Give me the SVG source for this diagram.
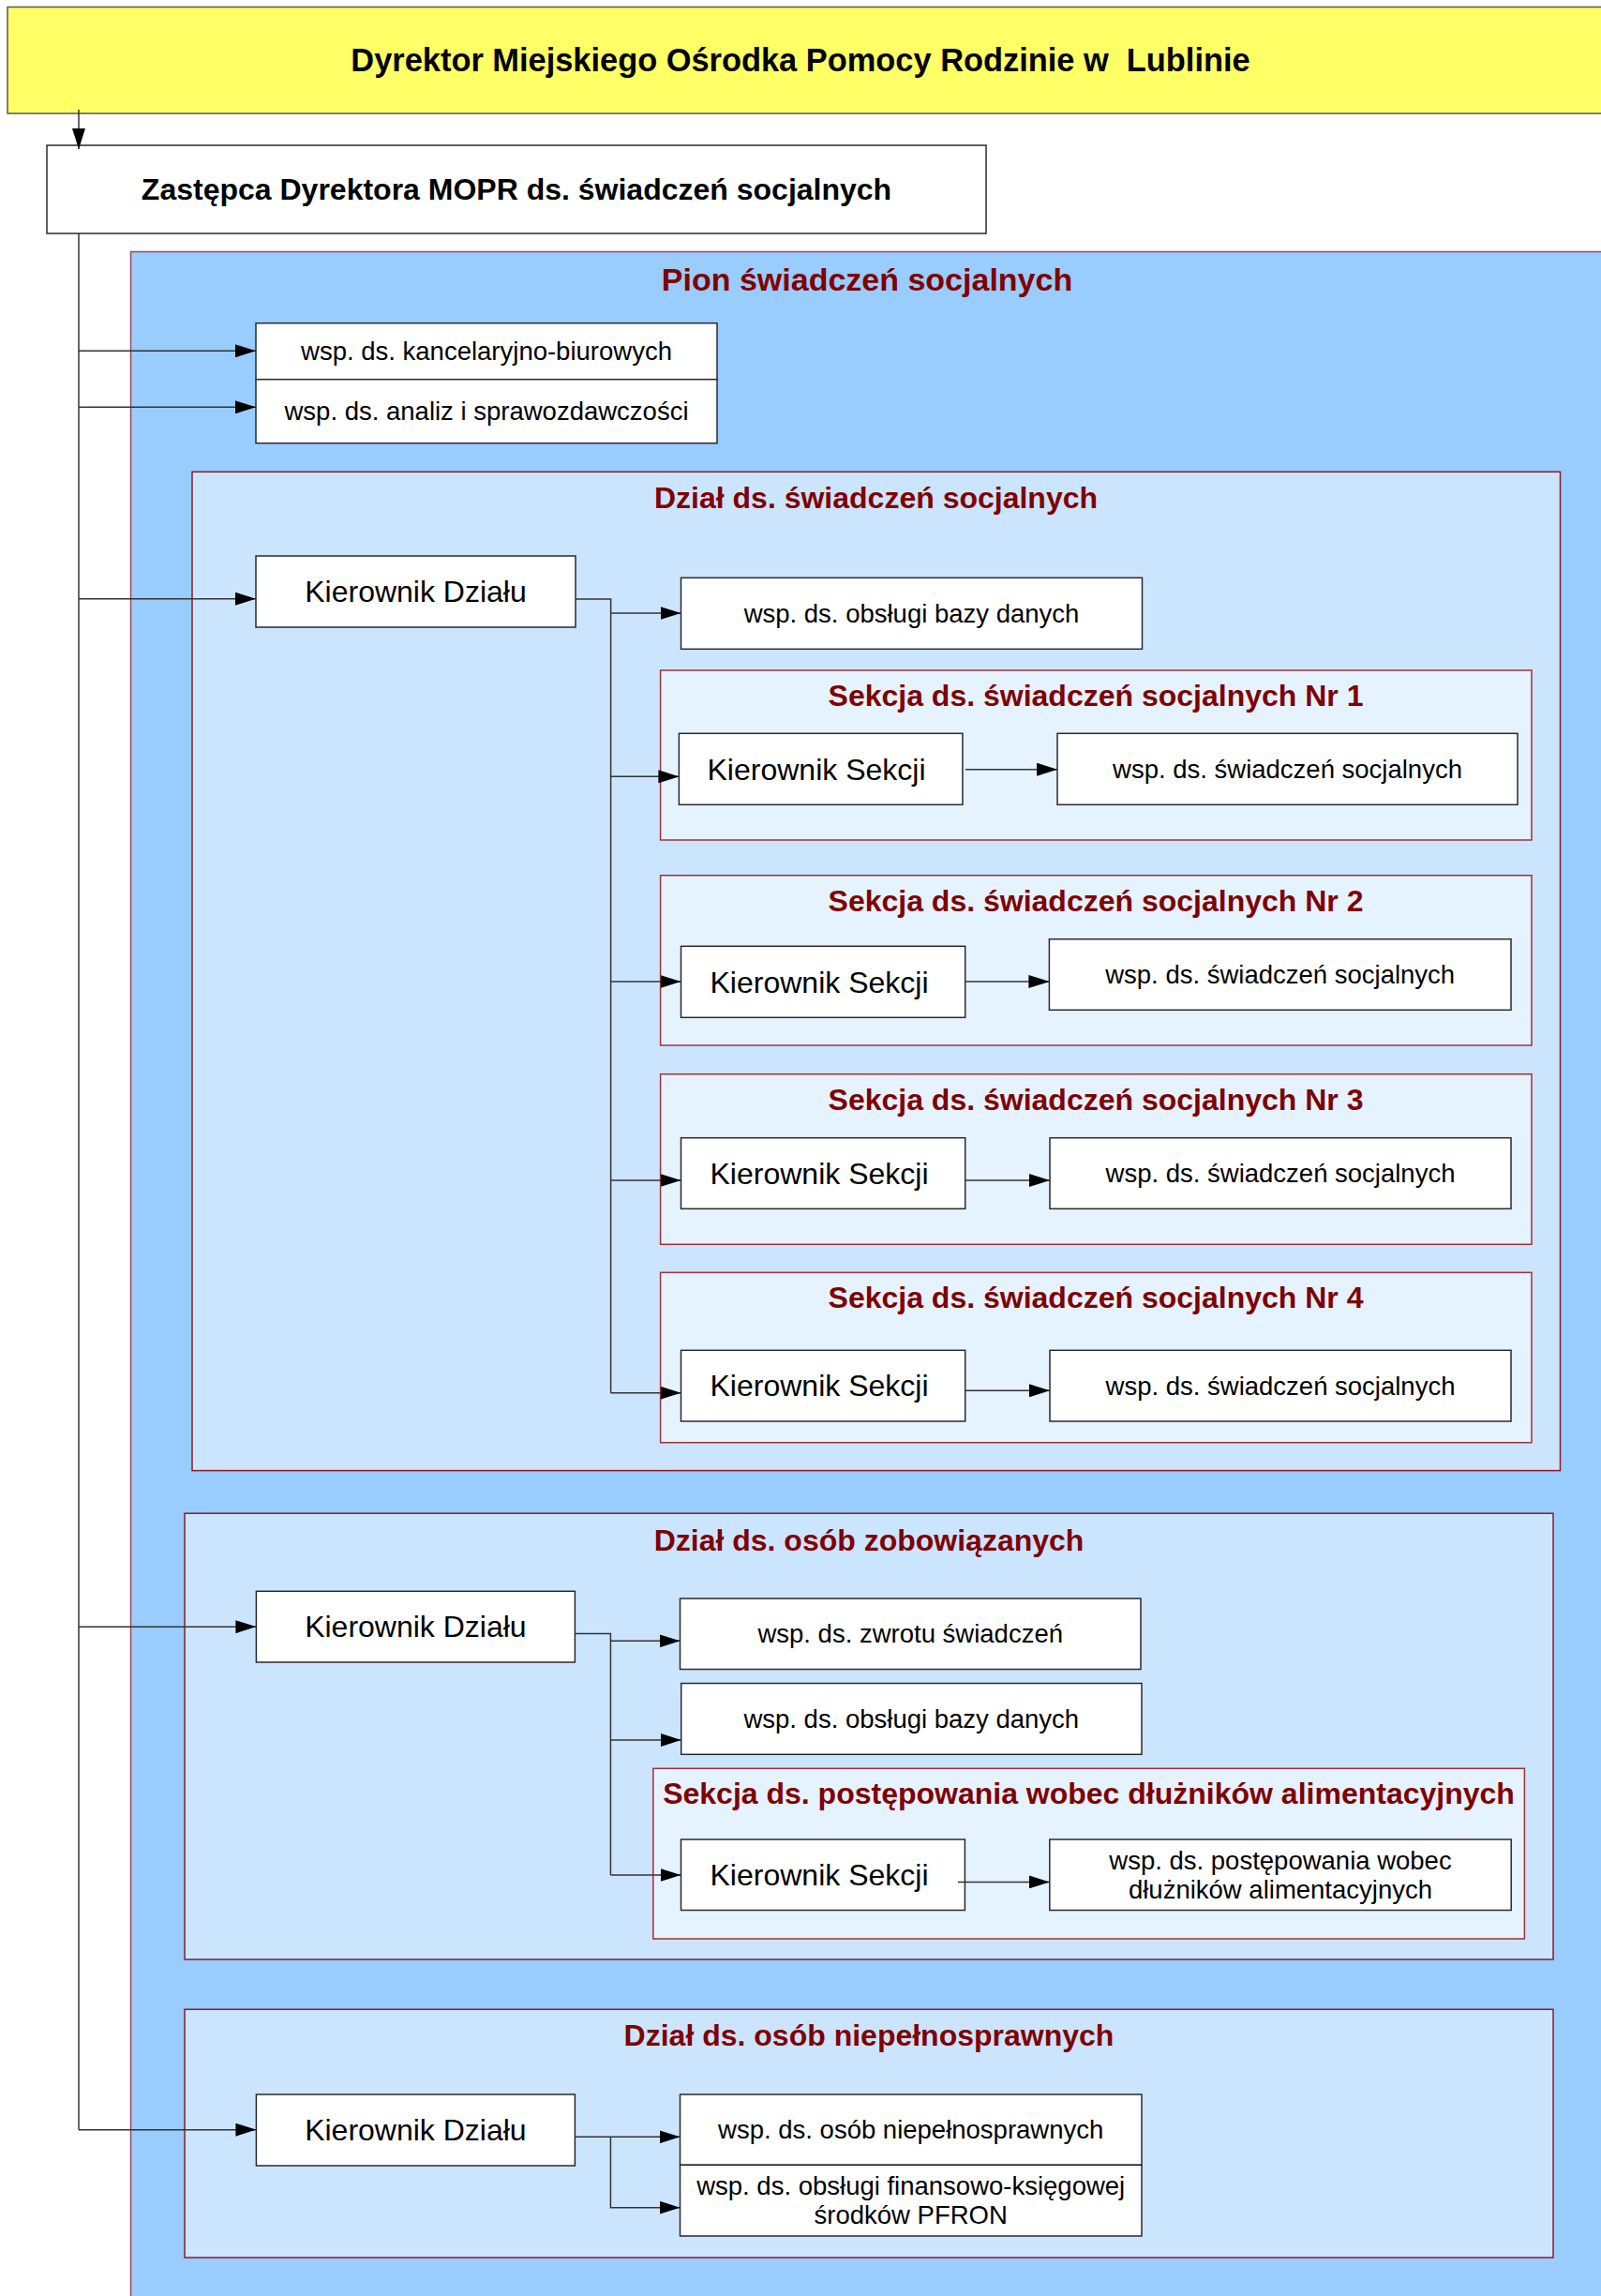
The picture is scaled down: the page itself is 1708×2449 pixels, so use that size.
<svg xmlns="http://www.w3.org/2000/svg" width="1708" height="2449" viewBox="0 0 1708 2449">
<style>
text{font-family:"Liberation Sans",Arial,sans-serif;text-anchor:middle;}
.hd{font-weight:bold;font-size:32px;fill:#000;}
.ttl{font-weight:bold;font-size:32px;fill:#800000;}
.k{font-size:32px;fill:#000;}
.w{font-size:27.5px;fill:#000;}
.box{fill:#fff;stroke:#2a2a2a;stroke-width:1.5;}
.pion{fill:#99CCFF;stroke:#9a4a5a;stroke-width:1.5;}
.dzial{fill:#CCE5FF;stroke:#8B1A2A;stroke-width:1.5;}
.sek{fill:#E5F2FF;stroke:#A0303A;stroke-width:1.5;}
.c{fill:none;stroke:#333;stroke-width:1.5;}
.a{fill:none;stroke:#333;stroke-width:1.5;marker-end:url(#ar);}
</style>
<defs>
<marker id="ar" markerUnits="userSpaceOnUse" markerWidth="22" markerHeight="14" refX="22" refY="7" orient="auto">
<path d="M0,0 L22,7 L0,14 z" fill="#000"/>
</marker>
</defs>
<rect width="1708" height="2449" fill="#fff"/>

<g id="dyrektor">
<rect x="8" y="7.5" width="1710" height="113.5" fill="#FFFF66" stroke="#555" stroke-width="1.5"/>
<text class="hd" x="854" y="76" style="font-size:34.4px;white-space:pre">Dyrektor Miejskiego Ośrodka Pomocy Rodzinie w  Lublinie</text>
</g>

<g id="zastepca">
<rect class="box" x="50" y="155" width="1002" height="94"/>
<text class="hd" x="551" y="213">Zastępca Dyrektora MOPR ds. świadczeń socjalnych</text>
</g>

<g id="pion">
<rect class="pion" x="139.5" y="268.5" width="1580" height="2200"/>
<text class="ttl" x="925" y="310" style="font-size:34px">Pion świadczeń socjalnych</text>
</g>

<g id="wsp-kancelaryjno">
<rect class="box" x="273" y="344.7" width="492" height="60"/>
<text class="w" x="519" y="384.3">wsp. ds. kancelaryjno-biurowych</text>
</g>
<g id="wsp-analiz">
<rect class="box" x="273" y="404.7" width="492" height="68"/>
<text class="w" x="519" y="448.3">wsp. ds. analiz i sprawozdawczości</text>
</g>

<g id="dzial-swiadczen">
<rect class="dzial" x="205" y="503.3" width="1459.5" height="1065.3"/>
<text class="ttl" x="934.5" y="542">Dział ds. świadczeń socjalnych</text>
</g>
<g id="kierownik-dzialu-1">
<rect class="box" x="273" y="593" width="341" height="76"/>
<text class="k" x="443.5" y="642">Kierownik Działu</text>
</g>
<g id="wsp-obslugi-1">
<rect class="box" x="726.5" y="616.3" width="492" height="76"/>
<text class="w" x="972.5" y="664">wsp. ds. obsługi bazy danych</text>
</g>

<g id="sekcja-1">
<rect class="sek" x="704.6" y="715" width="929.4" height="181"/>
<text class="ttl" x="1169" y="753">Sekcja ds. świadczeń socjalnych Nr 1</text>
</g>
<g id="kierownik-sekcji-1">
<rect class="box" x="724.4" y="782.3" width="302.5" height="76"/>
<text class="k" x="871" y="831.5">Kierownik Sekcji</text>
</g>
<g id="wsp-sekcja-1">
<rect class="box" x="1128" y="782.3" width="491" height="76"/>
<text class="w" x="1373.5" y="830">wsp. ds. świadczeń socjalnych</text>
</g>

<g id="sekcja-2">
<rect class="sek" x="704.6" y="933.7" width="929.4" height="181.3"/>
<text class="ttl" x="1169" y="972">Sekcja ds. świadczeń socjalnych Nr 2</text>
</g>
<g id="kierownik-sekcji-2">
<rect class="box" x="726.5" y="1009.3" width="303.2" height="76"/>
<text class="k" x="874" y="1058.5">Kierownik Sekcji</text>
</g>
<g id="wsp-sekcja-2">
<rect class="box" x="1119.4" y="1001.7" width="492.6" height="75.6"/>
<text class="w" x="1365.7" y="1049">wsp. ds. świadczeń socjalnych</text>
</g>

<g id="sekcja-3">
<rect class="sek" x="704.6" y="1145.7" width="929.4" height="181.6"/>
<text class="ttl" x="1169" y="1183.5">Sekcja ds. świadczeń socjalnych Nr 3</text>
</g>
<g id="kierownik-sekcji-3">
<rect class="box" x="726.5" y="1213.7" width="303.2" height="75.6"/>
<text class="k" x="874" y="1262.7">Kierownik Sekcji</text>
</g>
<g id="wsp-sekcja-3">
<rect class="box" x="1120" y="1213.7" width="492" height="75.6"/>
<text class="w" x="1366" y="1261">wsp. ds. świadczeń socjalnych</text>
</g>

<g id="sekcja-4">
<rect class="sek" x="704.6" y="1357.3" width="929.4" height="181.4"/>
<text class="ttl" x="1169" y="1395">Sekcja ds. świadczeń socjalnych Nr 4</text>
</g>
<g id="kierownik-sekcji-4">
<rect class="box" x="726.5" y="1440.3" width="303.2" height="75.7"/>
<text class="k" x="874" y="1489.3">Kierownik Sekcji</text>
</g>
<g id="wsp-sekcja-4">
<rect class="box" x="1120" y="1440.3" width="492" height="75.7"/>
<text class="w" x="1366" y="1487.7">wsp. ds. świadczeń socjalnych</text>
</g>

<g id="dzial-zobowiazanych">
<rect class="dzial" x="197" y="1614.2" width="1460" height="475.8"/>
<text class="ttl" x="927" y="1653.5">Dział ds. osób zobowiązanych</text>
</g>
<g id="kierownik-dzialu-2">
<rect class="box" x="273.4" y="1697.3" width="340" height="75.7"/>
<text class="k" x="443.4" y="1746.3">Kierownik Działu</text>
</g>
<g id="wsp-zwrotu">
<rect class="box" x="725.5" y="1705" width="491.5" height="75.5"/>
<text class="w" x="971.2" y="1752.3">wsp. ds. zwrotu świadczeń</text>
</g>
<g id="wsp-obslugi-2">
<rect class="box" x="726.7" y="1795.5" width="491.3" height="75.8"/>
<text class="w" x="972.3" y="1843">wsp. ds. obsługi bazy danych</text>
</g>
<g id="sekcja-alimentacyjna">
<rect class="sek" x="696.8" y="1886.3" width="929.6" height="181.7"/>
<text class="ttl" x="1161.5" y="1923.5">Sekcja ds. postępowania wobec dłużników alimentacyjnych</text>
</g>
<g id="kierownik-sekcji-alim">
<rect class="box" x="726.5" y="1962" width="302.9" height="75.5"/>
<text class="k" x="874" y="2011">Kierownik Sekcji</text>
</g>
<g id="wsp-postepowania">
<rect class="box" x="1119.8" y="1962" width="492.4" height="75.5"/>
<text class="w" x="1366" y="1993.8">wsp. ds. postępowania wobec</text>
<text class="w" x="1366" y="2024.8">dłużników alimentacyjnych</text>
</g>

<g id="dzial-niepelnosprawnych">
<rect class="dzial" x="197" y="2143.3" width="1460" height="264.7"/>
<text class="ttl" x="927" y="2181.7">Dział ds. osób niepełnosprawnych</text>
</g>
<g id="kierownik-dzialu-3">
<rect class="box" x="273.4" y="2234" width="340" height="76"/>
<text class="k" x="443.4" y="2283.2">Kierownik Działu</text>
</g>
<g id="wsp-niepelnosprawnych">
<rect class="box" x="725.5" y="2234" width="492.5" height="75.3"/>
<text class="w" x="971.7" y="2281.3">wsp. ds. osób niepełnosprawnych</text>
</g>
<g id="wsp-pfron">
<rect class="box" x="725.5" y="2309.3" width="492.5" height="75.7"/>
<text class="w" x="971.7" y="2341.3">wsp. ds. obsługi finansowo-księgowej</text>
<text class="w" x="971.7" y="2372.3">środków PFRON</text>
</g>

<g id="connectors">
<path class="a" d="M84,117 V159"/>
<path class="c" d="M84,249 V2271.7"/>
<path class="a" d="M84,374.3 H273"/>
<path class="a" d="M84,434.3 H273"/>
<path class="a" d="M84,638.7 H273"/>
<path class="a" d="M84,1735.2 H273.4"/>
<path class="a" d="M84,2271.7 H273.4"/>

<path class="c" d="M614,639 H651.6 V1485.7"/>
<path class="a" d="M651.6,654 H726.5"/>
<path class="a" d="M651.6,828.3 H724.4"/>
<path class="a" d="M651.6,1047 H726.5"/>
<path class="a" d="M651.6,1259 H726.5"/>
<path class="a" d="M651.6,1485.7 H726.5"/>
<path class="a" d="M1030,820.7 H1128"/>
<path class="a" d="M1030,1047 H1119.4"/>
<path class="a" d="M1030,1259 H1120"/>
<path class="a" d="M1030,1483.3 H1120"/>

<path class="c" d="M613.4,1742.5 H651.4 V2000"/>
<path class="a" d="M651.4,1750.3 H725.5"/>
<path class="a" d="M651.4,1856 H726.7"/>
<path class="a" d="M651.4,2000 H726.5"/>
<path class="a" d="M1022,2007.4 H1119.8"/>

<path class="a" d="M613.4,2279.3 H725.5"/>
<path class="a" d="M651.4,2279.3 V2354.7 H725.5"/>
</g>
</svg>
